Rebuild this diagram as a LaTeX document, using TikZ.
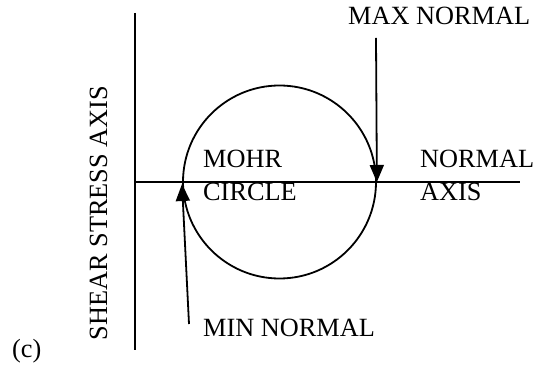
\documentclass[tikz,border=0pt]{standalone}
\usepackage{fontspec}
\setmainfont{Liberation Serif}
\usetikzlibrary{arrows.meta}
\begin{document}
\begin{tikzpicture}[x=1pt,y=-1pt,
  lbl/.style={inner sep=0pt,font=\fontsize{26.3}{32}\selectfont},
  axisline/.style={line width=1.8pt},
  pointer/.style={line width=1.8pt,-{Triangle[length=17pt,width=14pt]}}]
\useasboundingbox (0,0) rectangle (535,371);
% axes
\coordinate (vtop) at (135,13);
\coordinate (vbot) at (135,350);
\coordinate (hleft) at (135,182);
\coordinate (hright) at (520,182);
\draw[axisline] (vtop) -- (vbot);
\draw[axisline] (hleft) -- (hright);
% Mohr circle
\node[draw,circle,line width=1.8pt,minimum size=193pt,inner sep=0pt] (mohr) at (279.5,182) {};
% arrows
\coordinate (maxstart) at (376,38);
\coordinate (minstart) at (189,324);
\coordinate (mintip) at (182,184);
\draw[pointer] (maxstart) -- (mohr.east);
\draw[pointer] (minstart) -- (mintip);
% labels
\node[lbl,anchor=base west] (maxlbl) at (348,25) {MAX NORMAL};
\node[lbl,anchor=base west] (minlbl) at (203,336.5) {MIN NORMAL};
\node[lbl,anchor=base west] (mohr1) at (203,168) {MOHR};
\node[lbl,anchor=base west] (mohr2) at (203,200.5) {CIRCLE};
\node[lbl,anchor=base west] (norm1) at (420,168) {NORMAL};
\node[lbl,anchor=base west] (norm2) at (420,200.5) {AXIS};
\node[lbl,anchor=base,rotate=90] (shear) at (107,213) {SHEAR STRESS AXIS};
\node[lbl,anchor=base west] (clbl) at (12,357) {(c)};
\end{tikzpicture}
\end{document}
